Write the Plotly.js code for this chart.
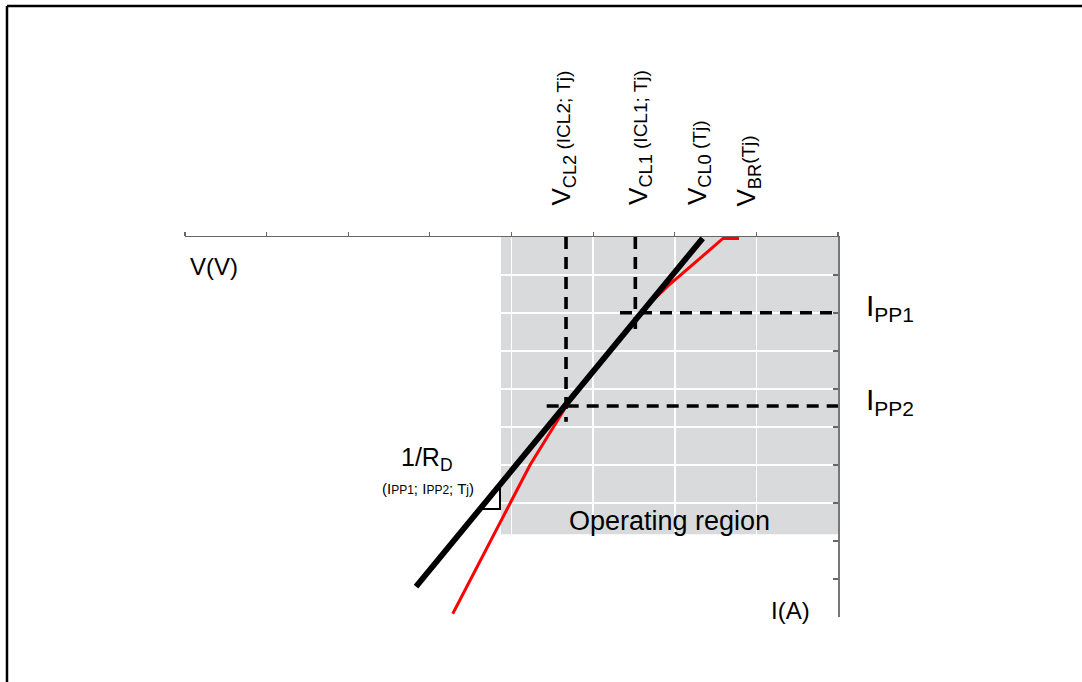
<!DOCTYPE html>
<html><head><meta charset="utf-8">
<script src="https://cdn.plot.ly/plotly-3.0.1.min.js"></script>
<style>html,body{margin:0;padding:0;background:#fff;}#chart{width:1082px;height:682px;}</style>
</head><body><div id="chart"></div>
<script>
// Axis ticks
const voltageTicks = [-8, -7, -6, -5, -4, -3, -2, -1, 0];
const currentTicks = [0, -1, -2, -3, -4, -5, -6, -7, -8, -9];

// Device characteristic (red)
const deviceV = [-4.72, -3.773, -3.32, -2.364, -2.083, -1.409, -1.213];
const deviceI = [-9.913, -6.0, -4.421, -1.868, -1.289, -0.039, -0.039];

// Linear model 1/RD (black)
const modelV = [-5.170, -1.658];
const modelI = [-9.203, -0.034];

// Clamping voltages / peak currents
const vcl2V = [-3.332, -3.332];
const vcl2I = [0, -4.861];
const vcl1V = [-2.483, -2.483];
const vcl1I = [0, -2.526];
const ipp1V = [-2.671, 0];
const ipp1I = [-1.992, -1.992];
const ipp2V = [-3.569, 0];
const ipp2I = [-4.447, -4.447];

// Slope triangle
const triV = [-4.141, -4.141, -4.361];
const triI = [-6.553, -7.158, -7.158];

// Operating region
const regionV = [-4.129, 0];
const regionI = [-7.82, 0];

const V_RANGE = [-8, 0];
const I_RANGE = [-10, 0];

const FONT = 'Liberation Sans, Arial, Helvetica, sans-serif';
const dash = {color: '#000', width: 3.6, dash: '12px,8px'};

const traces = [
  {x: deviceV, y: deviceI, mode: 'lines', line: {color: '#ff0000', width: 3}},
  {x: modelV, y: modelI, mode: 'lines', line: {color: '#000', width: 5.8}},
  {x: vcl2V, y: vcl2I, mode: 'lines', line: dash},
  {x: vcl1V, y: vcl1I, mode: 'lines', line: dash},
  {x: ipp1V, y: ipp1I, mode: 'lines', line: dash},
  {x: ipp2V, y: ipp2I, mode: 'lines', line: dash},
  {x: triV, y: triI, mode: 'lines', line: {color: '#000', width: 2}}
];

// map axis units to paper fractions (so labels outside the axis range still show)
const px = v => (v - V_RANGE[0]) / (V_RANGE[1] - V_RANGE[0]);
const py = i => (i - I_RANGE[0]) / (I_RANGE[1] - I_RANGE[0]);

function ann(x, y, text, size, opts) {
  return Object.assign({x: px(x), y: py(y), xref: 'paper', yref: 'paper', text: text, showarrow: false,
    xanchor: 'center', yanchor: 'middle',
    font: {family: FONT, size: size, color: '#000'}}, opts || {});
}
const small = s => '<span style="font-size:19px">' + s + '</span>';
const tiny = s => '<span style="font-size:12px">' + s + '</span>';

const annotations = [
  ann(-3.369, 0.763, 'V<sub>CL2</sub>' + small(' (ICL2; Tj)'), 26, {textangle: -90, yanchor: 'bottom'}),
  ann(-2.432, 0.79, 'V<sub>CL1</sub>' + small(' (ICL1; Tj)'), 26, {textangle: -90, yanchor: 'bottom'}),
  ann(-1.703, 0.79, 'V<sub>CL0</sub>' + small(' (Tj)'), 26, {textangle: -90, yanchor: 'bottom'}),
  ann(-1.103, 0.763, 'V<sub>BR</sub>' + small('(Tj)'), 26, {textangle: -90, yanchor: 'bottom'}),
  ann(-7.645, -0.789, 'V(V)', 24),
  ann(-0.576, -9.816, 'I(A)', 24),
  ann(-2.07, -7.47, 'Operating region', 27),
  ann(0.319, -1.85, 'I<sub>PP1</sub>', 30, {xanchor: 'left'}),
  ann(0.319, -4.32, 'I<sub>PP2</sub>', 30, {xanchor: 'left'}),
  ann(-5.035, -5.85, '1/R<sub>D</sub>', 25),
  ann(-4.435, -6.62, '(I' + tiny('PP1') + '; I' + tiny('PP2') + '; T' + tiny('j') + ')', 15, {xanchor: 'right'})
];

const shapes = [
  {type: 'rect', xref: 'x', yref: 'y', x0: regionV[0], x1: regionV[1], y0: regionI[0], y1: regionI[1],
   fillcolor: '#d9dadb', line: {width: 0}, layer: 'below'},
  // frame
  {type: 'line', xref: 'paper', yref: 'paper', x0: -0.2726, x1: 1.3737, y0: 1.6079, y1: 1.6079, line: {color: '#000', width: 2.5}},
  {type: 'line', xref: 'paper', yref: 'paper', x0: -0.2726, x1: -0.2726, y0: 1.6079, y1: -0.18, line: {color: '#000', width: 2.5}}
];

const layout = {
  width: 1082, height: 682,
  margin: {l: 185, r: 244, t: 237, b: 65, pad: 0},
  paper_bgcolor: '#fff', plot_bgcolor: '#fff',
  showlegend: false,
  font: {family: FONT},
  xaxis: {range: V_RANGE, side: 'top', tickmode: 'array', tickvals: voltageTicks, showticklabels: false,
    ticks: 'outside', ticklen: 4, tickwidth: 1.2, tickcolor: '#666',
    showline: true, linecolor: '#666', linewidth: 1.5, showgrid: true, gridcolor: '#fff', gridwidth: 1.5,
    zeroline: false, fixedrange: true},
  yaxis: {range: I_RANGE, side: 'right', tickmode: 'array', tickvals: currentTicks, showticklabels: false,
    ticks: 'inside', ticklen: 5, tickwidth: 1.2, tickcolor: '#666',
    showline: true, linecolor: '#777', linewidth: 2, showgrid: true, gridcolor: '#fff', gridwidth: 1.5,
    zeroline: false, fixedrange: true},
  shapes: shapes,
  annotations: annotations
};

Plotly.newPlot('chart', traces, layout, {staticPlot: true, displayModeBar: false});
</script>
</body></html>
